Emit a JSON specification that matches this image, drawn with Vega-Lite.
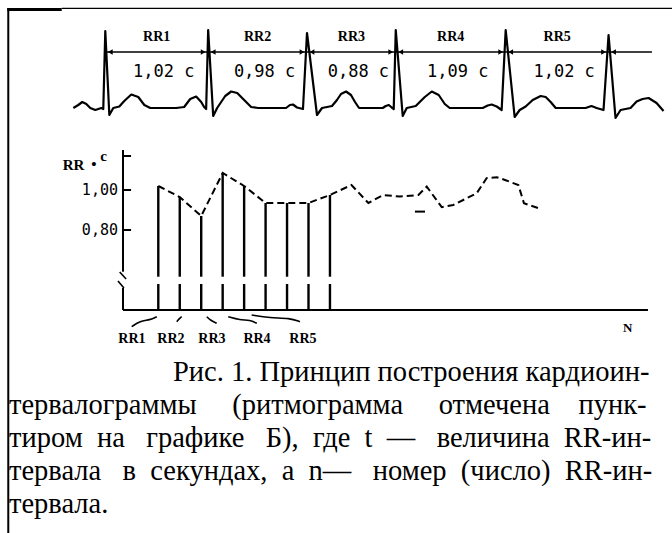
{
  "$schema": "https://vega.github.io/schema/vega-lite/v6.json",
  "width": 672,
  "height": 350,
  "padding": 0,
  "autosize": {"type": "pad"},
  "background": "white",
  "config": {
    "view": {"stroke": null},
    "locale": {"number": {"decimal": ",", "thousands": "\u00a0", "grouping": [3], "currency": ["", " c"]}}
  },
  "title": {
    "text": [
      "\u200b\u00a0\u00a0\u00a0\u00a0\u00a0\u00a0\u00a0\u00a0\u00a0\u00a0\u00a0\u00a0\u00a0\u00a0\u00a0\u00a0\u00a0\u00a0\u00a0\u00a0\u00a0\u00a0\u00a0Рис. 1. Принцип построения кардиоин-",
      "тервалограммы\u00a0\u00a0\u00a0\u00a0\u00a0(ритмограмма\u00a0\u00a0\u00a0\u00a0\u00a0отмечена\u00a0\u00a0\u00a0\u00a0пунк-",
      "тиром\u00a0\u00a0на\u00a0\u00a0\u00a0графике\u00a0\u00a0\u00a0Б),\u00a0\u00a0где\u00a0\u00a0t\u00a0\u00a0—\u00a0\u00a0\u00a0величина\u00a0\u00a0RR-ин-",
      "тервала\u00a0\u00a0\u00a0в\u00a0\u00a0секундах,\u00a0\u00a0а\u00a0\u00a0n—\u00a0\u00a0\u00a0номер\u00a0\u00a0(число)\u00a0\u00a0RR-ин-",
      "тервала."
    ],
    "orient": "bottom",
    "anchor": "start",
    "frame": "group",
    "offset": -153,
    "baseline": "alphabetic",
    "lineHeight": 33,
    "font": "Liberation Serif",
    "fontSize": 28.5,
    "fontWeight": "normal",
    "color": "black",
    "dx": 9
  },
  "datasets": {
    "ecg": [
      {"t": -0.317, "mv": 0}, {"t": -0.268, "mv": 0.06}, {"t": -0.228, "mv": 0.12}, {"t": -0.188, "mv": 0.08}, {"t": -0.149, "mv": 0}, {"t": -0.099, "mv": -0.04}, {"t": -0.04, "mv": 0}, {"t": -0.02, "mv": -0.02},
      {"t": 0, "mv": 1.54}, {"t": 0.04, "mv": -0.14}, {"t": 0.079, "mv": 0}, {"t": 0.139, "mv": 0.03}, {"t": 0.188, "mv": 0.14}, {"t": 0.258, "mv": 0.27}, {"t": 0.327, "mv": 0.22}, {"t": 0.387, "mv": 0.06}, {"t": 0.446, "mv": 0},
      {"t": 0.703, "mv": 0}, {"t": 0.782, "mv": 0.02}, {"t": 0.842, "mv": 0.18}, {"t": 0.901, "mv": 0.23}, {"t": 0.951, "mv": 0.12}, {"t": 0.98, "mv": 0.02}, {"t": 1.0, "mv": -0.02},
      {"t": 1.02, "mv": 1.56}, {"t": 1.07, "mv": -0.16}, {"t": 1.109, "mv": 0}, {"t": 1.149, "mv": 0.12}, {"t": 1.189, "mv": 0.24}, {"t": 1.248, "mv": 0.33}, {"t": 1.308, "mv": 0.3}, {"t": 1.367, "mv": 0.18}, {"t": 1.446, "mv": 0.02}, {"t": 1.516, "mv": 0},
      {"t": 1.792, "mv": 0}, {"t": 1.831, "mv": 0.06}, {"t": 1.861, "mv": 0.07}, {"t": 1.901, "mv": 0.01}, {"t": 1.96, "mv": -0.02},
      {"t": 2.0, "mv": 1.5}, {"t": 2.099, "mv": -0.14}, {"t": 2.149, "mv": 0}, {"t": 2.248, "mv": 0.04}, {"t": 2.297, "mv": 0.16}, {"t": 2.337, "mv": 0.28}, {"t": 2.387, "mv": 0.33}, {"t": 2.436, "mv": 0.26}, {"t": 2.476, "mv": 0.12}, {"t": 2.516, "mv": 0},
      {"t": 2.751, "mv": 0}, {"t": 2.781, "mv": 0.04}, {"t": 2.811, "mv": 0.06}, {"t": 2.84, "mv": 0.01}, {"t": 2.86, "mv": -0.02},
      {"t": 2.88, "mv": 1.56}, {"t": 2.949, "mv": -0.16}, {"t": 2.989, "mv": 0}, {"t": 3.078, "mv": 0.04}, {"t": 3.128, "mv": 0.14}, {"t": 3.168, "mv": 0.22}, {"t": 3.237, "mv": 0.33}, {"t": 3.306, "mv": 0.26}, {"t": 3.366, "mv": 0.08}, {"t": 3.415, "mv": 0},
      {"t": 3.742, "mv": 0}, {"t": 3.792, "mv": 0.05}, {"t": 3.831, "mv": 0.07}, {"t": 3.881, "mv": 0.03}, {"t": 3.93, "mv": -0.04},
      {"t": 3.97, "mv": 1.56}, {"t": 4.059, "mv": -0.18}, {"t": 4.109, "mv": -0.04}, {"t": 4.168, "mv": 0.03}, {"t": 4.238, "mv": 0.16}, {"t": 4.317, "mv": 0.24}, {"t": 4.367, "mv": 0.22}, {"t": 4.416, "mv": 0.12}, {"t": 4.466, "mv": 0},
      {"t": 4.762, "mv": 0}, {"t": 4.821, "mv": 0.04}, {"t": 4.871, "mv": 0}, {"t": 4.94, "mv": -0.04},
      {"t": 4.99, "mv": 1.46}, {"t": 5.059, "mv": -0.2}, {"t": 5.109, "mv": -0.04}, {"t": 5.208, "mv": 0}, {"t": 5.268, "mv": 0.13}, {"t": 5.327, "mv": 0.18}, {"t": 5.387, "mv": 0.2}, {"t": 5.466, "mv": 0.1}, {"t": 5.535, "mv": -0.06}
    ],
    "r_peaks": [{"t": 0}, {"t": 1.02}, {"t": 2.0}, {"t": 2.88}, {"t": 3.97}, {"t": 4.99}],
    "intervals": [
      {"interval": "RR1", "start": 0, "end": 1.02, "rr": 1.02},
      {"interval": "RR2", "start": 1.02, "end": 2.0, "rr": 0.98},
      {"interval": "RR3", "start": 2.0, "end": 2.88, "rr": 0.88},
      {"interval": "RR4", "start": 2.88, "end": 3.97, "rr": 1.09},
      {"interval": "RR5", "start": 3.97, "end": 4.99, "rr": 1.02}
    ],
    "rhythmogram": [
      {"n": 1, "rr": 1.02}, {"n": 2, "rr": 0.965}, {"n": 3, "rr": 0.87}, {"n": 4, "rr": 1.085}, {"n": 5, "rr": 1.02},
      {"n": 6, "rr": 0.935}, {"n": 7, "rr": 0.935}, {"n": 8, "rr": 0.935}, {"n": 9, "rr": 0.975},
      {"n": 10.0, "rr": 1.025}, {"n": 10.79, "rr": 0.935}, {"n": 11.48, "rr": 0.975}, {"n": 12.26, "rr": 0.967}, {"n": 13.12, "rr": 0.975},
      {"n": 13.51, "rr": 1.017}, {"n": 14.21, "rr": 0.914}, {"n": 14.75, "rr": 0.925}, {"n": 15.84, "rr": 0.984}, {"n": 16.3, "rr": 1.059},
      {"n": 16.77, "rr": 1.064}, {"n": 17.16, "rr": 1.05}, {"n": 17.78, "rr": 1.025}, {"n": 18.04, "rr": 0.934}, {"n": 18.71, "rr": 0.909}
    ],
    "stray": [{"n1": 12.96, "n2": 13.43, "rr": 0.892}],
    "y_ticks": [{"v": 1.17}, {"v": 1.0}, {"v": 0.8}],
    "y_title": [{"label": "RR", "n": -2.95, "v": 1.125}, {"label": "•", "n": -2.0, "v": 1.13}, {"label": "c", "n": -1.55, "v": 1.168}],
    "axis_break": [
      {"g": 1, "n": -0.8, "v": 0.59}, {"g": 1, "n": -0.5, "v": 0.555},
      {"g": 2, "n": -0.88, "v": 0.545}, {"g": 2, "n": -0.6, "v": 0.51}
    ],
    "bar_labels": [
      {"label": "RR1", "n": -0.23}, {"label": "RR2", "n": 1.59}, {"label": "RR3", "n": 3.5}, {"label": "RR4", "n": 5.6}, {"label": "RR5", "n": 7.74}
    ],
    "braces": [
      {"g": 1, "n": -0.24, "v": 0.3165}, {"g": 1, "n": 0.15, "v": 0.345}, {"g": 1, "n": 0.61, "v": 0.35}, {"g": 1, "n": 0.93, "v": 0.3665},
      {"g": 2, "n": 1.86, "v": 0.3415}, {"g": 2, "n": 2.01, "v": 0.36}, {"g": 2, "n": 2.09, "v": 0.3665},
      {"g": 3, "n": 3.26, "v": 0.3665}, {"g": 3, "n": 3.41, "v": 0.35}, {"g": 3, "n": 3.72, "v": 0.3335},
      {"g": 4, "n": 4.26, "v": 0.3665}, {"g": 4, "n": 4.81, "v": 0.35}, {"g": 4, "n": 5.27, "v": 0.35}, {"g": 4, "n": 5.59, "v": 0.3335},
      {"g": 5, "n": 5.35, "v": 0.375}, {"g": 5, "n": 6.2, "v": 0.36}, {"g": 5, "n": 7.13, "v": 0.36}, {"g": 5, "n": 7.6, "v": 0.3415}
    ],
    "n_label": [{"label": "N", "n": 22.88}],
    "frame_h": [{"x1": -0.432, "x2": 5.619, "y": 1.994}],
    "frame_hthick": [{"x1": -0.972, "x2": -0.432, "y": 1.97}],
    "frame_v": [{"x": -0.962, "y1": 2.0, "y2": -8.5}],
    "arrow_line": [{"x1": 0, "x2": 5.42, "y": 1.12}],
    "x_axis_line": [{"x1": -0.645, "x2": 23.82, "y": 0.4}],
    "y_axis_lines": [{"x": -0.645, "y1": 1.2, "y2": 0.5915}, {"x": -0.645, "y1": 0.51, "y2": 0.4}]
  },
  "layer": [
    {
      "layer": [
        {
          "data": {"name": "frame_h"},
          "mark": {"type": "rule", "color": "black", "strokeWidth": 1.2},
          "encoding": {
            "x": {"field": "x1", "type": "quantitative", "scale": {"domain": [-1.044, 5.619], "nice": false, "zero": false}, "axis": null},
            "x2": {"field": "x2"},
            "y": {"field": "y", "type": "quantitative", "scale": {"domain": [-4.84, 2.16], "nice": false, "zero": false}, "axis": null}
          }
        },
        {
          "data": {"name": "frame_hthick"},
          "mark": {"type": "rule", "color": "black", "strokeWidth": 3},
          "encoding": {
            "x": {"field": "x1", "type": "quantitative", "scale": {"domain": [-1.044, 5.619], "nice": false, "zero": false}, "axis": null},
            "x2": {"field": "x2"},
            "y": {"field": "y", "type": "quantitative", "scale": {"domain": [-4.84, 2.16], "nice": false, "zero": false}, "axis": null}
          }
        },
        {
          "data": {"name": "frame_v"},
          "mark": {"type": "rule", "color": "black", "strokeWidth": 2},
          "encoding": {
            "x": {"field": "x", "type": "quantitative", "scale": {"domain": [-1.044, 5.619], "nice": false, "zero": false}, "axis": null},
            "y": {"field": "y1", "type": "quantitative", "scale": {"domain": [-4.84, 2.16], "nice": false, "zero": false}, "axis": null},
            "y2": {"field": "y2"}
          }
        },
        {
          "data": {"name": "ecg"},
          "mark": {"type": "line", "color": "black", "strokeWidth": 2.2, "strokeJoin": "round"},
          "encoding": {
            "x": {"field": "t", "type": "quantitative", "scale": {"domain": [-1.044, 5.619], "nice": false, "zero": false}, "axis": null},
            "y": {"field": "mv", "type": "quantitative", "scale": {"domain": [-4.84, 2.16], "nice": false, "zero": false}, "axis": null}
          }
        },
        {
          "data": {"name": "arrow_line"},
          "mark": {"type": "rule", "color": "black", "strokeWidth": 1.5},
          "encoding": {
            "x": {"field": "x1", "type": "quantitative", "scale": {"domain": [-1.044, 5.619], "nice": false, "zero": false}, "axis": null},
            "x2": {"field": "x2"},
            "y": {"field": "y", "type": "quantitative", "scale": {"domain": [-4.84, 2.16], "nice": false, "zero": false}, "axis": null}
          }
        },
        {
          "data": {"name": "r_peaks"},
          "mark": {"type": "point", "shape": "triangle-left", "filled": true, "color": "black", "size": 30, "opacity": 1, "xOffset": 5},
          "encoding": {
            "x": {"field": "t", "type": "quantitative", "scale": {"domain": [-1.044, 5.619], "nice": false, "zero": false}, "axis": null},
            "y": {"datum": 1.12, "type": "quantitative", "scale": {"domain": [-4.84, 2.16], "nice": false, "zero": false}, "axis": null}
          }
        },
        {
          "data": {"name": "intervals"},
          "mark": {"type": "point", "shape": "triangle-right", "filled": true, "color": "black", "size": 30, "opacity": 1, "xOffset": -5},
          "encoding": {
            "x": {"field": "end", "type": "quantitative", "scale": {"domain": [-1.044, 5.619], "nice": false, "zero": false}, "axis": null},
            "y": {"datum": 1.12, "type": "quantitative", "scale": {"domain": [-4.84, 2.16], "nice": false, "zero": false}, "axis": null}
          }
        },
        {
          "data": {"name": "intervals"},
          "transform": [
            {"fold": ["start", "end"], "as": ["k", "tv"]},
            {"aggregate": [{"op": "mean", "field": "tv", "as": "mid"}], "groupby": ["interval", "rr"]}
          ],
          "mark": {"type": "text", "font": "Liberation Serif", "fontWeight": "bold", "fontSize": 14, "color": "black", "baseline": "middle"},
          "encoding": {
            "x": {"field": "mid", "type": "quantitative", "scale": {"domain": [-1.044, 5.619], "nice": false, "zero": false}, "axis": null},
            "y": {"datum": 1.42, "type": "quantitative", "scale": {"domain": [-4.84, 2.16], "nice": false, "zero": false}, "axis": null},
            "text": {"field": "interval", "type": "nominal"}
          }
        },
        {
          "data": {"name": "intervals"},
          "transform": [
            {"fold": ["start", "end"], "as": ["k", "tv"]},
            {"aggregate": [{"op": "mean", "field": "tv", "as": "mid"}], "groupby": ["interval", "rr"]}
          ],
          "mark": {"type": "text", "font": "DejaVu Sans Mono", "fontSize": 17, "color": "black", "baseline": "middle", "dx": 7},
          "encoding": {
            "x": {"field": "mid", "type": "quantitative", "scale": {"domain": [-1.044, 5.619], "nice": false, "zero": false}, "axis": null},
            "y": {"datum": 0.726, "type": "quantitative", "scale": {"domain": [-4.84, 2.16], "nice": false, "zero": false}, "axis": null},
            "text": {"field": "rr", "type": "quantitative", "format": "$.2f"}
          }
        }
      ]
    },
    {
      "layer": [
        {
          "data": {"name": "rhythmogram"},
          "transform": [{"filter": "datum.n <= 9"}],
          "mark": {"type": "rule", "color": "black", "strokeWidth": 2.4},
          "encoding": {
            "x": {"field": "n", "type": "quantitative", "scale": {"domain": [-6.377, 24.94], "nice": false, "zero": false}, "axis": null},
            "y": {"field": "rr", "type": "quantitative", "scale": {"domain": [0.2, 1.95], "nice": false, "zero": false}, "axis": null},
            "y2": {"datum": 0.5665}
          }
        },
        {
          "data": {"name": "rhythmogram"},
          "transform": [{"filter": "datum.n <= 9"}],
          "mark": {"type": "rule", "color": "black", "strokeWidth": 2.4},
          "encoding": {
            "x": {"field": "n", "type": "quantitative", "scale": {"domain": [-6.377, 24.94], "nice": false, "zero": false}, "axis": null},
            "y": {"datum": 0.4, "type": "quantitative", "scale": {"domain": [0.2, 1.95], "nice": false, "zero": false}, "axis": null},
            "y2": {"datum": 0.53}
          }
        },
        {
          "data": {"name": "rhythmogram"},
          "mark": {"type": "line", "color": "black", "strokeWidth": 2, "strokeDash": [7, 4]},
          "encoding": {
            "x": {"field": "n", "type": "quantitative", "scale": {"domain": [-6.377, 24.94], "nice": false, "zero": false}, "axis": null},
            "y": {"field": "rr", "type": "quantitative", "scale": {"domain": [0.2, 1.95], "nice": false, "zero": false}, "axis": null}
          }
        },
        {
          "data": {"name": "stray"},
          "mark": {"type": "rule", "color": "black", "strokeWidth": 2},
          "encoding": {
            "x": {"field": "n1", "type": "quantitative", "scale": {"domain": [-6.377, 24.94], "nice": false, "zero": false}, "axis": null},
            "x2": {"field": "n2"},
            "y": {"field": "rr", "type": "quantitative", "scale": {"domain": [0.2, 1.95], "nice": false, "zero": false}, "axis": null}
          }
        },
        {
          "data": {"name": "x_axis_line"},
          "mark": {"type": "rule", "color": "black", "strokeWidth": 2},
          "encoding": {
            "x": {"field": "x1", "type": "quantitative", "scale": {"domain": [-6.377, 24.94], "nice": false, "zero": false}, "axis": null},
            "x2": {"field": "x2"},
            "y": {"field": "y", "type": "quantitative", "scale": {"domain": [0.2, 1.95], "nice": false, "zero": false}, "axis": null}
          }
        },
        {
          "data": {"name": "y_axis_lines"},
          "mark": {"type": "rule", "color": "black", "strokeWidth": 2},
          "encoding": {
            "x": {"field": "x", "type": "quantitative", "scale": {"domain": [-6.377, 24.94], "nice": false, "zero": false}, "axis": null},
            "y": {"field": "y1", "type": "quantitative", "scale": {"domain": [0.2, 1.95], "nice": false, "zero": false}, "axis": null},
            "y2": {"field": "y2"}
          }
        },
        {
          "data": {"name": "y_ticks"},
          "mark": {"type": "rule", "color": "black", "strokeWidth": 2},
          "encoding": {
            "x": {"datum": -0.645, "type": "quantitative", "scale": {"domain": [-6.377, 24.94], "nice": false, "zero": false}, "axis": null},
            "x2": {"datum": -0.27},
            "y": {"field": "v", "type": "quantitative", "scale": {"domain": [0.2, 1.95], "nice": false, "zero": false}, "axis": null}
          }
        },
        {
          "data": {"name": "y_ticks"},
          "transform": [{"filter": "datum.v < 1.1"}],
          "mark": {"type": "text", "font": "DejaVu Sans Mono", "fontSize": 15, "color": "black", "baseline": "middle", "align": "right", "dx": -5},
          "encoding": {
            "x": {"datum": -0.645, "type": "quantitative", "scale": {"domain": [-6.377, 24.94], "nice": false, "zero": false}, "axis": null},
            "y": {"field": "v", "type": "quantitative", "scale": {"domain": [0.2, 1.95], "nice": false, "zero": false}, "axis": null},
            "text": {"field": "v", "type": "quantitative", "format": ".2f"}
          }
        },
        {
          "data": {"name": "y_title"},
          "mark": {"type": "text", "font": "Liberation Serif", "fontWeight": "bold", "fontSize": 15, "color": "black", "baseline": "middle"},
          "encoding": {
            "x": {"field": "n", "type": "quantitative", "scale": {"domain": [-6.377, 24.94], "nice": false, "zero": false}, "axis": null},
            "y": {"field": "v", "type": "quantitative", "scale": {"domain": [0.2, 1.95], "nice": false, "zero": false}, "axis": null},
            "text": {"field": "label", "type": "nominal"}
          }
        },
        {
          "data": {"name": "axis_break"},
          "mark": {"type": "line", "color": "black", "strokeWidth": 1.6},
          "encoding": {
            "x": {"field": "n", "type": "quantitative", "scale": {"domain": [-6.377, 24.94], "nice": false, "zero": false}, "axis": null},
            "y": {"field": "v", "type": "quantitative", "scale": {"domain": [0.2, 1.95], "nice": false, "zero": false}, "axis": null},
            "detail": {"field": "g", "type": "nominal"}
          }
        },
        {
          "data": {"name": "braces"},
          "mark": {"type": "line", "color": "black", "strokeWidth": 1.6, "interpolate": "basis"},
          "encoding": {
            "x": {"field": "n", "type": "quantitative", "scale": {"domain": [-6.377, 24.94], "nice": false, "zero": false}, "axis": null},
            "y": {"field": "v", "type": "quantitative", "scale": {"domain": [0.2, 1.95], "nice": false, "zero": false}, "axis": null},
            "detail": {"field": "g", "type": "nominal"}
          }
        },
        {
          "data": {"name": "bar_labels"},
          "mark": {"type": "text", "font": "Liberation Serif", "fontWeight": "bold", "fontSize": 14, "color": "black", "baseline": "middle"},
          "encoding": {
            "x": {"field": "n", "type": "quantitative", "scale": {"domain": [-6.377, 24.94], "nice": false, "zero": false}, "axis": null},
            "y": {"datum": 0.255, "type": "quantitative", "scale": {"domain": [0.2, 1.95], "nice": false, "zero": false}, "axis": null},
            "text": {"field": "label", "type": "nominal"}
          }
        },
        {
          "data": {"name": "n_label"},
          "mark": {"type": "text", "font": "Liberation Serif", "fontWeight": "bold", "fontSize": 13, "color": "black", "baseline": "middle"},
          "encoding": {
            "x": {"field": "n", "type": "quantitative", "scale": {"domain": [-6.377, 24.94], "nice": false, "zero": false}, "axis": null},
            "y": {"datum": 0.31, "type": "quantitative", "scale": {"domain": [0.2, 1.95], "nice": false, "zero": false}, "axis": null},
            "text": {"field": "label", "type": "nominal"}
          }
        }
      ]
    }
  ],
  "resolve": {"scale": {"x": "independent", "y": "independent"}}
}
